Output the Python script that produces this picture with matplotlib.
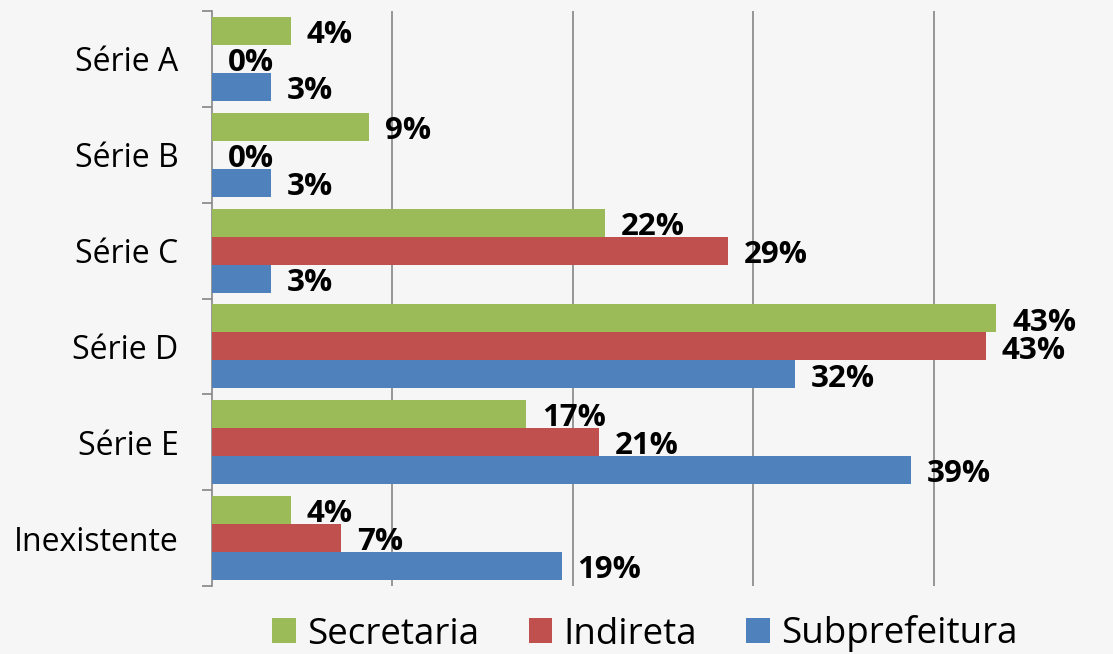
import matplotlib.pyplot as plt
import numpy as np

plt.rcParams['font.family'] = ['Open Sans', 'DejaVu Sans']

categorias = ['Série A', 'Série B', 'Série C', 'Série D', 'Série E', 'Inexistente']
secretaria = [0.0436, 0.0872, 0.2177, 0.4348, 0.174, 0.0436]
indireta = [0.0, 0.0, 0.286, 0.429, 0.2145, 0.0717]
subprefeitura = [0.0325, 0.0325, 0.0325, 0.323, 0.3875, 0.1938]
series = ['Secretaria', 'Indireta', 'Subprefeitura']
cores = ['#9BBB59', '#C0504D', '#4F81BD']

fig = plt.figure(figsize=(11.13, 6.54), dpi=100, facecolor='#f6f6f6')
ax = fig.add_axes([212 / 1113, 1 - 586 / 654, 902 / 1113, 575 / 654])
ax.set_facecolor('none')

y = np.arange(len(categorias))
h = 0.2917
offsets = [-h, 0, h]

for vals, nome, cor, off in zip([secretaria, indireta, subprefeitura], series, cores, offsets):
    ax.barh(y + off, vals, height=h, color=cor, label=nome, zorder=3)
    for yi, v in zip(y, vals):
        ax.annotate(f'{v:.0%}', (v, yi + off), xytext=(11.5, -3), textcoords='offset points',
                    ha='left', va='center', fontsize=22.5, fontweight='bold', color='black',
                    zorder=4)

ax.set_xlim(0, 0.5)
ax.set_ylim(len(categorias) - 0.5, -0.5)
ax.set_xticks([0.1, 0.2, 0.3, 0.4])
ax.xaxis.grid(True, color='#868686', linewidth=1.2, zorder=1)
ax.tick_params(axis='x', length=0, labelbottom=False)

ax.set_yticks(y)
ax.set_yticklabels(categorias, fontsize=23)
ax.set_yticks(np.arange(-0.5, len(categorias)), minor=True)
ax.tick_params(axis='y', which='major', length=0, pad=24)
ax.tick_params(axis='y', which='minor', length=7.5, width=1.2, color='#868686')

for s in ['top', 'right', 'bottom']:
    ax.spines[s].set_visible(False)
ax.spines['left'].set_color('#868686')
ax.spines['left'].set_linewidth(1.2)

fig.legend(loc='center', bbox_to_anchor=(645 / 1113, 1 - 634 / 654), ncol=3, frameon=False,
           fontsize=26.5, handlelength=0.65, handleheight=0.65, handletextpad=0.3,
           columnspacing=1.33)

fig.savefig('out.png', dpi=100, facecolor=fig.get_facecolor())
